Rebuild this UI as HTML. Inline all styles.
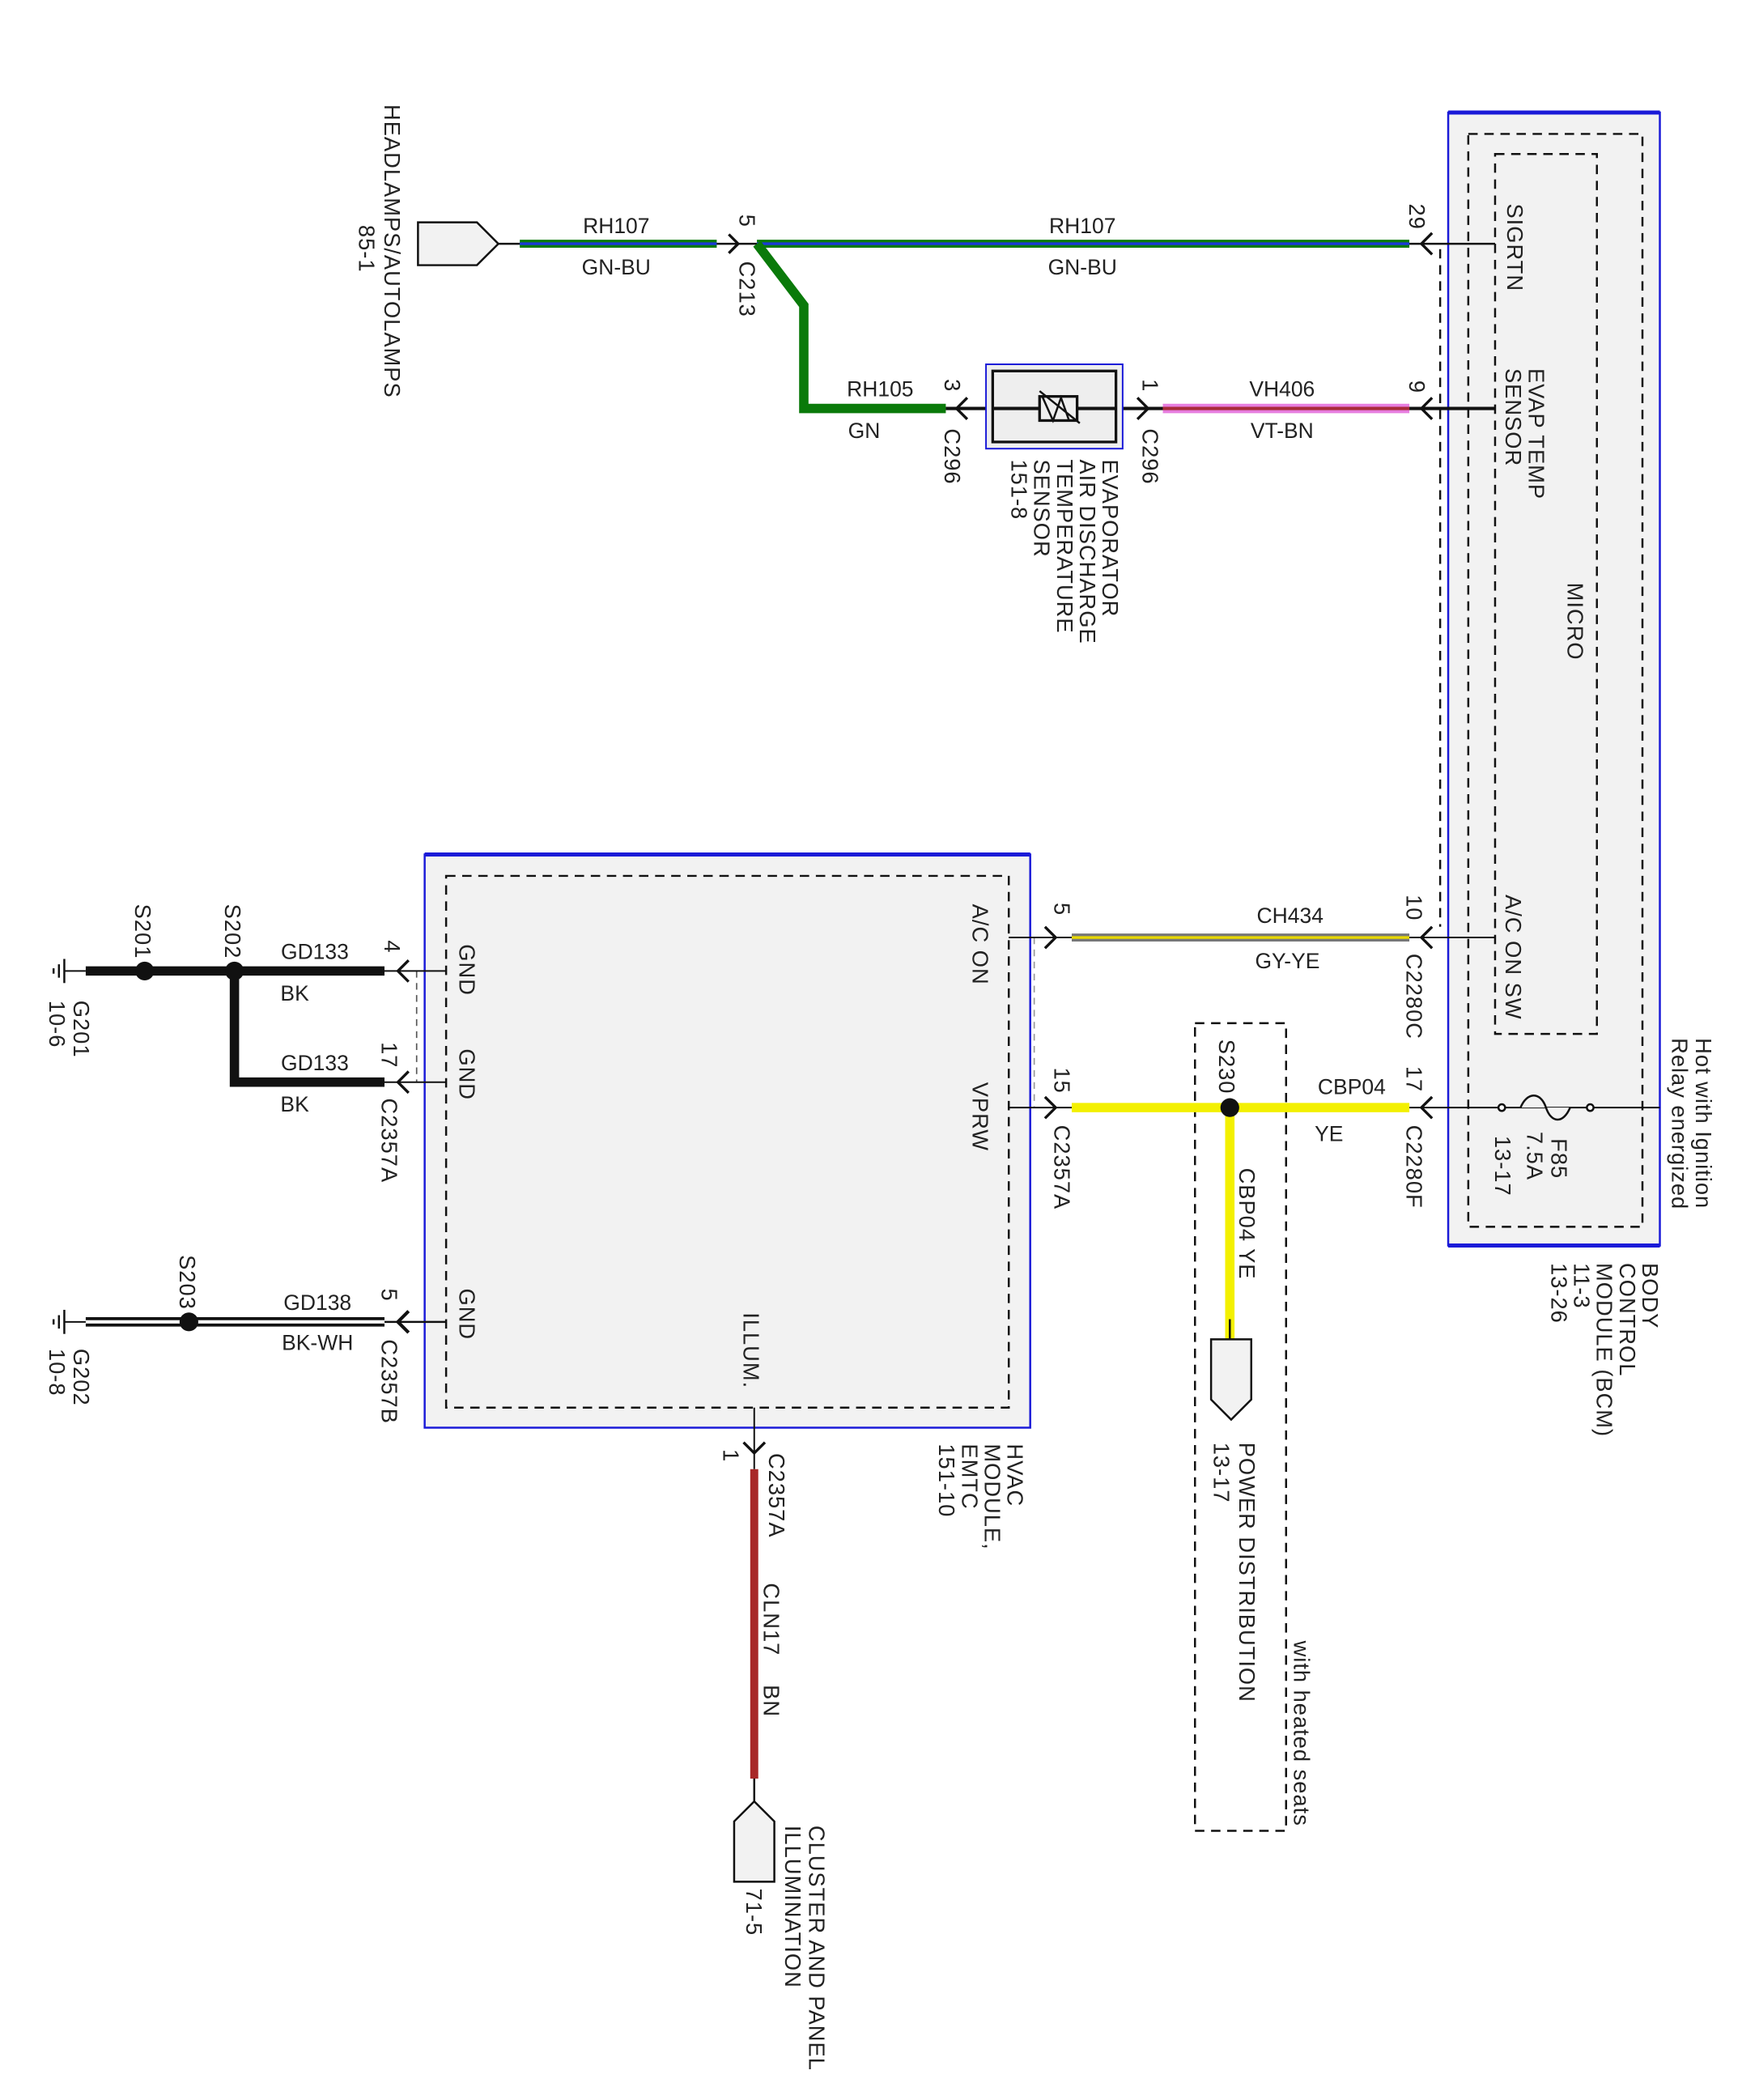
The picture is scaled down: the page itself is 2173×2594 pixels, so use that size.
<!DOCTYPE html>
<html><head><meta charset="utf-8"><style>
html,body{margin:0;padding:0;background:#fff}
svg{display:block}
text{font-family:"Liberation Sans",sans-serif;font-size:16px;fill:#222}
g.r text{font-size:16.5px;letter-spacing:0.6px}
</style></head><body>
<svg width="2173" height="2594" viewBox="0 0 1313 1568" preserveAspectRatio="none" xmlns="http://www.w3.org/2000/svg">
<rect width="1313" height="1568" fill="#fff"/>
<rect x="1081" y="84" width="158" height="846" fill="#f2f2f2" stroke="#1a1ad8" stroke-width="1.5"/>
<line x1="1081" y1="84" x2="1239" y2="84" stroke="#1a1ad8" stroke-width="3"/>
<line x1="1081" y1="930" x2="1239" y2="930" stroke="#1a1ad8" stroke-width="3"/>
<rect x="1096" y="100" width="130" height="816" fill="none" stroke="#111" stroke-width="1.5" stroke-dasharray="7,5"/>
<rect x="1116" y="115" width="76" height="657" fill="none" stroke="#111" stroke-width="1.5" stroke-dasharray="7,5"/>
<line x1="1075" y1="186" x2="1075" y2="692" stroke="#111" stroke-width="1.5" stroke-dasharray="7,5"/>
<rect x="317" y="638" width="452" height="428" fill="#f2f2f2" stroke="#1a1ad8" stroke-width="1.5"/>
<line x1="317" y1="638" x2="769" y2="638" stroke="#1a1ad8" stroke-width="3"/>
<rect x="333" y="654" width="420" height="397" fill="none" stroke="#111" stroke-width="1.5" stroke-dasharray="7,5"/>
<line x1="772" y1="700" x2="772" y2="827" stroke="#999" stroke-width="1" stroke-dasharray="5,4"/>
<line x1="311" y1="725" x2="311" y2="808" stroke="#555" stroke-width="1" stroke-dasharray="5,4"/>
<rect x="892" y="764" width="68" height="603" fill="none" stroke="#111" stroke-width="1.5" stroke-dasharray="7,5"/>

<path d="M312,166 L356,166 L372,182 L356,198 L312,198 Z" fill="#f2f2f2" stroke="#111" stroke-width="1.5"/>
<line x1="372" y1="182" x2="388" y2="182" stroke="#111" stroke-width="1.5"/>
<line x1="388" y1="182" x2="535" y2="182" stroke="#0a7a0a" stroke-width="6"/>
<line x1="388" y1="182" x2="535" y2="182" stroke="#1a3ad8" stroke-width="2"/>
<line x1="535" y1="182" x2="565" y2="182" stroke="#111" stroke-width="1.5"/>
<path d="M544,175 L551,182 L544,189" fill="none" stroke="#111" stroke-width="2"/>
<line x1="565" y1="182" x2="1052" y2="182" stroke="#0a7a0a" stroke-width="6"/>
<line x1="565" y1="182" x2="1052" y2="182" stroke="#1a3ad8" stroke-width="2"/>
<line x1="1052" y1="182" x2="1116" y2="182" stroke="#111" stroke-width="1.5"/>
<path d="M1069,174 L1061,182 L1069,190" fill="none" stroke="#111" stroke-width="2"/>
<path d="M565,182 L600,228 L600,305 L706,305" fill="none" stroke="#0a7a0a" stroke-width="7"/>
<line x1="706" y1="305" x2="868" y2="305" stroke="#111" stroke-width="2.5"/>
<path d="M722,297 L714,305 L722,313" fill="none" stroke="#111" stroke-width="2"/>
<path d="M849,297 L857,305 L849,313" fill="none" stroke="#111" stroke-width="2"/>
<rect x="736" y="272" width="102" height="63" fill="#eee" stroke="#1a1ad8" stroke-width="1.2"/>
<rect x="741" y="277" width="92" height="53" fill="#eee" stroke="#111" stroke-width="2"/>
<line x1="741" y1="305" x2="833" y2="305" stroke="#111" stroke-width="2.5"/>
<rect x="776" y="296" width="28" height="18" fill="#eee" stroke="#111" stroke-width="2"/>
<path d="M778,296 L786,314 L792,297 L798,314 M776,292 L806,316" fill="none" stroke="#111" stroke-width="1.5"/>
<line x1="868" y1="305" x2="1052" y2="305" stroke="#e77ee0" stroke-width="7"/>
<line x1="868" y1="305" x2="1052" y2="305" stroke="#a82a3a" stroke-width="2.5"/>
<line x1="1052" y1="305" x2="1116" y2="305" stroke="#111" stroke-width="2.5"/>
<path d="M1069,297 L1061,305 L1069,313" fill="none" stroke="#111" stroke-width="2"/>
<line x1="753" y1="700" x2="800" y2="700" stroke="#111" stroke-width="1.2"/>
<path d="M780,692 L788,700 L780,708" fill="none" stroke="#111" stroke-width="2"/>
<line x1="800" y1="700" x2="1052" y2="700" stroke="#777" stroke-width="6"/>
<line x1="800" y1="700" x2="1052" y2="700" stroke="#e8d800" stroke-width="2"/>
<line x1="1052" y1="700" x2="1116" y2="700" stroke="#111" stroke-width="1.2"/>
<path d="M1069,692 L1061,700 L1069,708" fill="none" stroke="#111" stroke-width="2"/>
<line x1="753" y1="827" x2="800" y2="827" stroke="#111" stroke-width="1.2"/>
<path d="M780,819 L788,827 L780,835" fill="none" stroke="#111" stroke-width="2"/>
<line x1="800" y1="827" x2="1052" y2="827" stroke="#f3f000" stroke-width="7"/>
<line x1="918" y1="827" x2="918" y2="1000" stroke="#f3f000" stroke-width="7"/>
<line x1="918" y1="985" x2="918" y2="1000" stroke="#111" stroke-width="1.5"/>
<circle cx="918" cy="827" r="7" fill="#111"/>
<line x1="1052" y1="827" x2="1239" y2="827" stroke="#111" stroke-width="1.2"/>
<path d="M1069,819 L1061,827 L1069,835" fill="none" stroke="#111" stroke-width="2"/>
<circle cx="1121" cy="827" r="2.5" fill="#fff" stroke="#111" stroke-width="1.5"/>
<circle cx="1187" cy="827" r="2.5" fill="#fff" stroke="#111" stroke-width="1.5"/>
<path d="M1135,827 C1140,815 1150,815 1154,827 C1158,839 1167,839 1172,827" fill="#f2f2f2" stroke="#111" stroke-width="1.5"/>
<path d="M904,1000 L934,1000 L934,1045 L919,1060 L904,1045 Z" fill="#f2f2f2" stroke="#111" stroke-width="1.5"/>
<line x1="64" y1="725" x2="287" y2="725" stroke="#111" stroke-width="7"/>
<path d="M175,725 L175,808 L287,808" fill="none" stroke="#111" stroke-width="7"/>
<line x1="287" y1="725" x2="333" y2="725" stroke="#111" stroke-width="1.2"/>
<line x1="287" y1="808" x2="333" y2="808" stroke="#111" stroke-width="1.2"/>
<path d="M305,717 L297,725 L305,733" fill="none" stroke="#111" stroke-width="2"/>
<path d="M305,800 L297,808 L305,816" fill="none" stroke="#111" stroke-width="2"/>
<circle cx="108" cy="725" r="7" fill="#111"/>
<circle cx="175" cy="725" r="7" fill="#111"/>
<line x1="48" y1="725" x2="64" y2="725" stroke="#111" stroke-width="1.2"/>
<line x1="48" y1="716" x2="48" y2="734" stroke="#111" stroke-width="1.5"/>
<line x1="44" y1="720" x2="44" y2="730" stroke="#111" stroke-width="1.5"/>
<line x1="40" y1="723" x2="40" y2="727" stroke="#111" stroke-width="1.5"/>
<line x1="64" y1="987" x2="287" y2="987" stroke="#111" stroke-width="7"/>
<line x1="64" y1="987" x2="287" y2="987" stroke="#fff" stroke-width="2.5"/>
<line x1="287" y1="987" x2="333" y2="987" stroke="#111" stroke-width="1.5"/>
<path d="M305,979 L297,987 L305,995" fill="none" stroke="#111" stroke-width="2.5"/>
<circle cx="141" cy="987" r="7" fill="#111"/>
<line x1="48" y1="987" x2="64" y2="987" stroke="#111" stroke-width="1.2"/>
<line x1="48" y1="978" x2="48" y2="996" stroke="#111" stroke-width="1.5"/>
<line x1="44" y1="982" x2="44" y2="992" stroke="#111" stroke-width="1.5"/>
<line x1="40" y1="985" x2="40" y2="989" stroke="#111" stroke-width="1.5"/>
<line x1="563" y1="1051" x2="563" y2="1097" stroke="#111" stroke-width="1.2"/>
<path d="M555,1077 L563,1085 L571,1077" fill="none" stroke="#111" stroke-width="2"/>
<line x1="563" y1="1097" x2="563" y2="1328" stroke="#a82828" stroke-width="6"/>
<line x1="563" y1="1328" x2="563" y2="1345" stroke="#111" stroke-width="1.5"/>
<path d="M548,1405 L578,1405 L578,1360 L563,1345 L548,1360 Z" fill="#f2f2f2" stroke="#111" stroke-width="1.5"/>

<text x="460" y="174" text-anchor="middle">RH107</text>
<text x="460" y="205" text-anchor="middle">GN-BU</text>
<text x="808" y="174" text-anchor="middle">RH107</text>
<text x="808" y="205" text-anchor="middle">GN-BU</text>
<text x="657" y="296" text-anchor="middle">RH105</text>
<text x="645" y="327" text-anchor="middle">GN</text>
<text x="957" y="296" text-anchor="middle">VH406</text>
<text x="957" y="327" text-anchor="middle">VT-BN</text>
<text x="963" y="689" text-anchor="middle">CH434</text>
<text x="961" y="723" text-anchor="middle">GY-YE</text>
<text x="1009" y="817" text-anchor="middle">CBP04</text>
<text x="992" y="852" text-anchor="middle">YE</text>
<text x="235" y="716" text-anchor="middle">GD133</text>
<text x="220" y="747" text-anchor="middle">BK</text>
<text x="235" y="799" text-anchor="middle">GD133</text>
<text x="220" y="830" text-anchor="middle">BK</text>
<text x="237" y="978" text-anchor="middle">GD138</text>
<text x="237" y="1008" text-anchor="middle">BK-WH</text>

<g class="r">
<text transform="translate(287,78) rotate(90)">HEADLAMPS/AUTOLAMPS</text>
<text transform="translate(268,168) rotate(90)">85-1</text>
<text transform="translate(552,160) rotate(90)">5</text>
<text transform="translate(552,195) rotate(90)">C213</text>
<text transform="translate(1052,152) rotate(90)">29</text>
<text transform="translate(1125,152) rotate(90)">SIGRTN</text>
<text transform="translate(1141,275) rotate(90)">EVAP TEMP</text>
<text transform="translate(1124,275) rotate(90)">SENSOR</text>
<text transform="translate(1170,435) rotate(90)">MICRO</text>
<text transform="translate(1124,668) rotate(90)">A/C ON SW</text>
<text transform="translate(1052,284) rotate(90)">9</text>
<text transform="translate(1050,668) rotate(90)">10</text>
<text transform="translate(1050,712) rotate(90)">C2280C</text>
<text transform="translate(1050,796) rotate(90)">17</text>
<text transform="translate(1050,840) rotate(90)">C2280F</text>
<text transform="translate(1158,850) rotate(90)">F85</text>
<text transform="translate(1140,845) rotate(90)">7.5A</text>
<text transform="translate(1116,848) rotate(90)">13-17</text>
<text transform="translate(1266,775) rotate(90)">Hot with Ignition</text>
<text transform="translate(1248,775) rotate(90)">Relay energized</text>
<text transform="translate(1226,943) rotate(90)">BODY</text>
<text transform="translate(1209,943) rotate(90)">CONTROL</text>
<text transform="translate(1192,943) rotate(90)">MODULE (BCM)</text>
<text transform="translate(1175,943) rotate(90)">11-3</text>
<text transform="translate(1158,943) rotate(90)">13-26</text>
<text transform="translate(853,283) rotate(90)">1</text>
<text transform="translate(853,320) rotate(90)">C296</text>
<text transform="translate(705,283) rotate(90)">3</text>
<text transform="translate(705,320) rotate(90)">C296</text>
<text transform="translate(823,343) rotate(90)">EVAPORATOR</text>
<text transform="translate(806,343) rotate(90)">AIR DISCHARGE</text>
<text transform="translate(789,343) rotate(90)">TEMPERATURE</text>
<text transform="translate(772,343) rotate(90)">SENSOR</text>
<text transform="translate(755,343) rotate(90)">151-8</text>
<text transform="translate(787,674) rotate(90)">5</text>
<text transform="translate(726,675) rotate(90)">A/C ON</text>
<text transform="translate(787,797) rotate(90)">15</text>
<text transform="translate(787,840) rotate(90)">C2357A</text>
<text transform="translate(726,808) rotate(90)">VPRW</text>
<text transform="translate(910,776) rotate(90)">S230</text>
<text transform="translate(925,872) rotate(90)">CBP04  YE</text>
<text transform="translate(925,1077) rotate(90)">POWER DISTRIBUTION</text>
<text transform="translate(906,1077) rotate(90)">13-17</text>
<text transform="translate(966,1225) rotate(90)">with heated seats</text>
<text transform="translate(343,705) rotate(90)">GND</text>
<text transform="translate(343,783) rotate(90)">GND</text>
<text transform="translate(343,962) rotate(90)">GND</text>
<text transform="translate(287,702) rotate(90)">4</text>
<text transform="translate(285,778) rotate(90)">17</text>
<text transform="translate(285,820) rotate(90)">C2357A</text>
<text transform="translate(285,962) rotate(90)">5</text>
<text transform="translate(285,1000) rotate(90)">C2357B</text>
<text transform="translate(168,675) rotate(90)">S202</text>
<text transform="translate(101,675) rotate(90)">S201</text>
<text transform="translate(134,937) rotate(90)">S203</text>
<text transform="translate(55,747) rotate(90)">G201</text>
<text transform="translate(37,747) rotate(90)">10-6</text>
<text transform="translate(55,1007) rotate(90)">G202</text>
<text transform="translate(37,1007) rotate(90)">10-8</text>
<text transform="translate(555,980) rotate(90)">ILLUM.</text>
<text transform="translate(540,1082) rotate(90)">1</text>
<text transform="translate(574,1085) rotate(90)">C2357A</text>
<text transform="translate(570,1182) rotate(90)">CLN17</text>
<text transform="translate(570,1258) rotate(90)">BN</text>
<text transform="translate(604,1363) rotate(90)">CLUSTER AND PANEL</text>
<text transform="translate(586,1363) rotate(90)">ILLUMINATION</text>
<text transform="translate(557,1410) rotate(90)">71-5</text>
<text transform="translate(752,1078) rotate(90)">HVAC</text>
<text transform="translate(735,1078) rotate(90)">MODULE,</text>
<text transform="translate(718,1078) rotate(90)">EMTC</text>
<text transform="translate(701,1078) rotate(90)">151-10</text>
</g>
</svg>
</body></html>
